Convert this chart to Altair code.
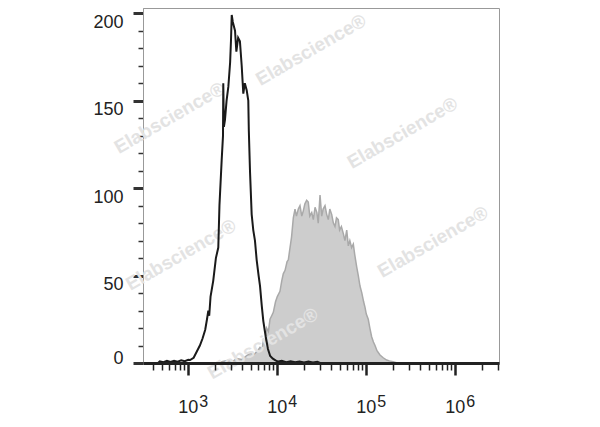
import altair as alt
import pandas as pd

# Isotype control (black outline) : log10(intensity), count
ctrl_log = [2.50, 2.66, 2.68, 2.72, 2.76, 2.80, 2.84, 2.88, 2.92, 2.96, 3.00, 3.02, 3.06, 3.09,
            3.11, 3.13, 3.16, 3.19, 3.21, 3.225, 3.235, 3.25, 3.28, 3.31, 3.337, 3.35, 3.375,
            3.39, 3.393, 3.40, 3.412, 3.43, 3.45, 3.47, 3.48, 3.488, 3.50, 3.525, 3.54, 3.56,
            3.58, 3.60, 3.618, 3.635, 3.656, 3.674, 3.68, 3.693, 3.712, 3.73, 3.749, 3.768,
            3.79, 3.806, 3.825, 3.843, 3.87, 3.895, 3.92, 3.95, 3.98, 4.01, 4.05, 4.10, 4.15,
            4.20, 4.25, 4.30, 4.35, 4.40, 4.45, 4.48, 6.49]
ctrl_count = [0, 0, 1, 0.5, 1.2, 0.6, 1.3, 0.8, 1.5, 1.0, 1.8, 1.7, 3, 6,
              8, 10, 14, 19, 25, 30, 27, 38, 47, 60, 66, 90, 116,
              130, 160, 135, 139, 150, 158, 172, 185, 199, 195, 190, 178, 186,
              184, 170, 154, 160, 156, 150, 133, 110, 85, 76, 70, 59,
              50, 44, 33, 24, 15, 8, 4, 2.5, 1.5, 0.8, 1.2, 0.5, 1,
              0.4, 0.9, 0.3, 0.8, 0.3, 0.7, 0, 0]

# Stained sample (grey filled)
stain_log = [3.28, 3.35, 3.40, 3.45, 3.50, 3.544, 3.60, 3.65, 3.693, 3.74, 3.78, 3.806, 3.83,
             3.843, 3.86, 3.88, 3.90, 3.918, 3.937, 3.955, 3.98, 4.00, 4.03, 4.05, 4.067,
             4.087, 4.11, 4.124, 4.143, 4.16, 4.18, 4.199, 4.215, 4.236, 4.255, 4.275, 4.292,
             4.31, 4.33, 4.348, 4.365, 4.387, 4.405, 4.424, 4.445, 4.46, 4.48, 4.499, 4.515,
             4.536, 4.555, 4.573, 4.59, 4.611, 4.63, 4.648, 4.665, 4.685, 4.70, 4.72, 4.742,
             4.76, 4.78, 4.798, 4.815, 4.835, 4.854, 4.87, 4.892, 4.91, 4.929, 4.95, 4.97,
             4.985, 5.00, 5.022, 5.04, 5.06, 5.08, 5.098, 5.12, 5.154, 5.19, 5.229, 5.26,
             5.30, 5.33, 5.35]
stain_count = [0, 0.5, 1, 1.5, 1, 2.5, 2, 4, 5.5, 5, 7, 9, 8,
               13, 11, 20, 18, 25, 27, 29, 35, 38, 41, 47, 51,
               53, 58, 59, 66, 72, 83, 88, 84, 88, 90, 84, 87,
               91, 93, 92, 84, 86, 82, 89, 86, 80, 96, 84, 88,
               90, 85, 82, 88, 85, 80, 78, 83, 82, 76, 78, 74,
               70, 76, 67, 70, 66, 68, 62, 55, 50, 44, 40, 35,
               32, 28, 25, 20, 15, 12, 10, 7, 4.6, 3, 1.7, 1.2,
               0.7, 0.3, 0]

y_ticks = list(range(0, 201, 10))
x_ticks = [400, 500, 600, 700, 800, 900,
           1000, 2000, 3000, 4000, 5000, 6000, 7000, 8000, 9000,
           10000, 20000, 30000, 40000, 50000, 60000, 70000, 80000, 90000,
           100000, 200000, 300000, 400000, 500000, 600000, 700000, 800000, 900000,
           1000000, 2000000, 3000000]
decades = [3, 4, 5, 6]

# watermark anchor positions in data space (log10 x, count)
wm_log = [2.791, 4.379, 5.407, 2.918, 5.749, 3.839]
wm_count = [140.1, 179.0, 131.5, 61.8, 69.2, 11.1]

FONT = "Liberation Sans Narrow, Liberation Sans, Arial, sans-serif"

ctrl = pd.DataFrame({"x": [10 ** v for v in ctrl_log], "y": ctrl_count})
stain = pd.DataFrame({"x": [10 ** v for v in stain_log], "y": stain_count})
dec = pd.DataFrame({"x": [10 ** d for d in decades], "base": ["10"] * len(decades),
                    "exp": [str(d) for d in decades]})
wm = pd.DataFrame({"x": [10 ** v for v in wm_log], "y": wm_count,
                   "t": ["Elabscience®"] * len(wm_log)})

xscale = alt.Scale(type="log", domain=[10 ** 2.491, 10 ** 6.491], nice=False)
yscale = alt.Scale(domain=[0, 203], nice=False)

major_x = "abs(log(datum.value)/LN10 - round(log(datum.value)/LN10)) < 0.001"

x_axis = alt.Axis(values=x_ticks, labels=False, grid=False, title=None,
                  domainColor="#222222", domainWidth=3, tickColor="#222222",
                  tickSize={"condition": {"test": major_x, "value": 12}, "value": 7},
                  tickWidth={"condition": {"test": major_x, "value": 2.5}, "value": 1.5},
                  zindex=1)
y_axis = alt.Axis(values=y_ticks, grid=False, title=None,
                  labelExpr="datum.value % 50 == 0 ? datum.label : ''",
                  labelFont=FONT, labelFontSize=18, labelColor="#222222",
                  labelPadding=10, labelOverlap=False,
                  labelBaseline={"condition": {"test": "datum.value == 0", "value": "alphabetic"},
                                 "value": "top"},
                  domainColor="#999999", domainWidth=1, tickColor="#333333",
                  tickSize={"condition": {"test": "datum.value % 50 == 0", "value": 10}, "value": 5},
                  tickWidth={"condition": {"test": "datum.value % 50 == 0", "value": 3}, "value": 1.5})

X = alt.X("x:Q", scale=xscale, axis=x_axis, title=None)
Y = alt.Y("y:Q", scale=yscale, axis=y_axis, title=None)

area = alt.Chart(stain).mark_area(color="#cdcdcd", stroke="#a9a9a9", strokeWidth=1.5,
                                  clip=True).encode(x=X, y=Y)

water = alt.Chart(wm).mark_text(angle=330, fontSize=19, fontWeight="bold", color="#e3e3e3",
                                font="Liberation Sans, Arial, sans-serif").encode(
    x=X, y=Y, text="t:N",
)

line = alt.Chart(ctrl).mark_line(color="#1a1a1a", strokeWidth=2, clip=True).encode(
    x=X, y=Y,
)

base_lbl = alt.Chart(dec).mark_text(align="right", dx=10, baseline="alphabetic",
                                     fontSize=18, font=FONT, color="#222222").encode(
    x=X,
    y=alt.value(404.7),
    text="base:N",
)
exp_lbl = alt.Chart(dec).mark_text(align="left", dx=11, baseline="alphabetic",
                                    fontSize=16, font=FONT, color="#222222").encode(
    x=X,
    y=alt.value(398.7),
    text="exp:N",
)

chart = alt.layer(area, water, line, base_lbl, exp_lbl).properties(
    width=356, height=355,
    autosize=alt.AutoSizeParams(type="none"),
    padding={"left": 135, "top": 0, "right": 93, "bottom": 56},
    background="white",
).configure_view(stroke="#999999", strokeWidth=1)

chart.save("out.html", embed_options={"renderer": "svg", "actions": False})
